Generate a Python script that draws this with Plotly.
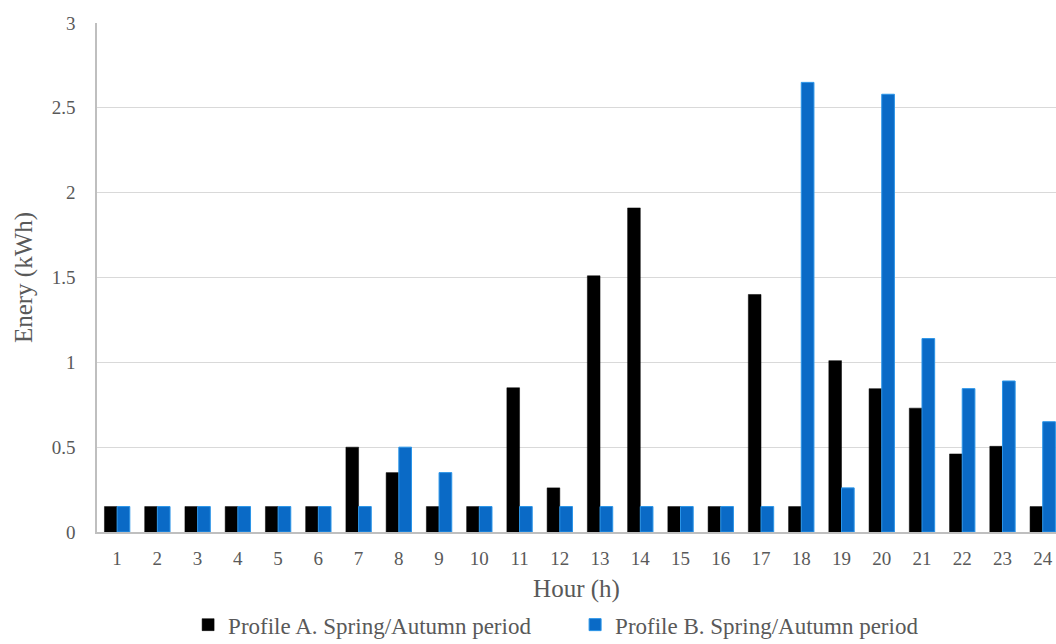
import plotly.graph_objects as go

hours = list(range(1, 25))
hour_labels = [str(h) for h in hours]

profile_a = [0.15, 0.15, 0.15, 0.15, 0.15, 0.15, 0.50, 0.35, 0.15, 0.15, 0.85, 0.26,
             1.51, 1.91, 0.15, 0.15, 1.40, 0.15, 1.01, 0.845, 0.73, 0.46, 0.505, 0.15]
profile_b = [0.15, 0.15, 0.15, 0.15, 0.15, 0.15, 0.15, 0.50, 0.35, 0.15, 0.15, 0.15,
             0.15, 0.15, 0.15, 0.15, 0.15, 2.65, 0.26, 2.58, 1.14, 0.845, 0.89, 0.65]

name_a = "Profile A. Spring/Autumn period"
name_b = "Profile B. Spring/Autumn period"

y_ticks = [0, 0.5, 1, 1.5, 2, 2.5, 3]
y_tick_text = ["0", "0.5", "1", "1.5", "2", "2.5", "3"]

serif = "Liberation Serif"
grey_text = "#595959"

fig = go.Figure()
fig.add_trace(go.Bar(
    x=hours, y=profile_a, name=name_a,
    marker=dict(color="#000000", line=dict(color="#000000", width=0.5)),
))
fig.add_trace(go.Bar(
    x=hours, y=profile_b, name=name_b,
    marker=dict(color="#0a6ac6", line=dict(color="#2b95e8", width=1)),
))

fig.update_layout(
    width=1056, height=644,
    margin=dict(l=97, r=0, t=23, b=112, autoexpand=False),
    paper_bgcolor="white", plot_bgcolor="white",
    barmode="group", bargap=0.37, bargroupgap=0,
    font=dict(family=serif, color=grey_text, size=19),
    showlegend=True,
    legend=dict(
        orientation="h", xref="paper", x=0.095, xanchor="left",
        yref="container", y=0.03, yanchor="middle",
        font=dict(family=serif, size=23, color=grey_text),
        itemwidth=30, entrywidth=342, entrywidthmode="pixels",
        traceorder="normal", bgcolor="rgba(0,0,0,0)",
    ),
)

fig.update_xaxes(
    range=[0.5, 24.33], automargin=False,
    tickmode="array", tickvals=hours, ticktext=hour_labels,
    showgrid=False, zeroline=False,
    showline=True, linecolor="#bfbfbf", linewidth=1.5,
    ticks="", ticklabelstandoff=8,
    tickfont=dict(family=serif, size=19, color=grey_text),
    title=dict(text="Hour (h)", font=dict(family=serif, size=25, color=grey_text), standoff=24),
)

fig.update_yaxes(
    range=[0, 3], automargin=False,
    tickmode="array", tickvals=y_ticks, ticktext=y_tick_text,
    showgrid=True, gridcolor="#d9d9d9", gridwidth=1.2,
    zeroline=False,
    showline=True, linecolor="#bfbfbf", linewidth=1.5,
    ticks="", ticklabelstandoff=16,
    tickfont=dict(family=serif, size=19, color=grey_text),
    title=dict(text="Enery (kWh)", font=dict(family=serif, size=25, color=grey_text), standoff=12),
)

fig.write_html("out.html")
